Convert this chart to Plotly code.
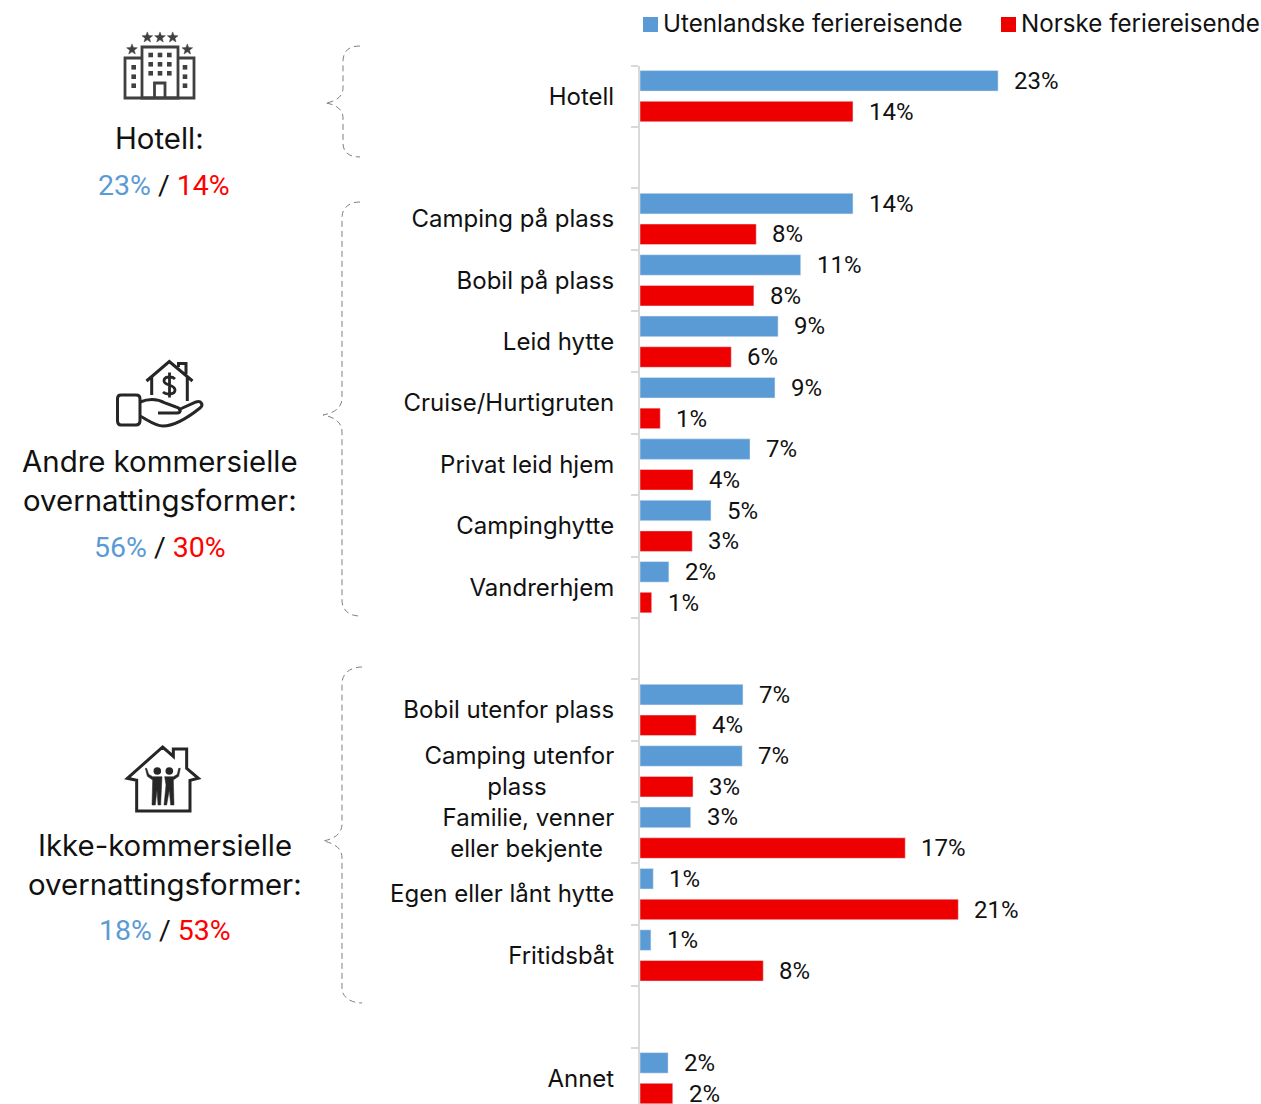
"""Overnattingsformer: utenlandske og norske feriereisende."""

import math
import re

import plotly.graph_objects as go

W, H = 1261, 1104
FONT = "Inter"
NUM_FONT = "Roboto"
BLUE = "#5B9BD5"
RED_BAR = "#EE0000"
RED_TEXT = "#FF0000"

categories = [
    "Hotell", " ", "Camping på plass", "Bobil på plass", "Leid hytte", "Cruise/Hurtigruten",
    "Privat leid hjem", "Campinghytte", "Vandrerhjem", "  ", "Bobil utenfor plass",
    "Camping utenfor<br>plass\u00a0\u00a0\u00a0\u00a0\u00a0\u00a0\u00a0\u00a0\u00a0\u00a0",
    "Familie, venner<br>eller bekjente\u00a0\u2009", "Egen eller lånt hytte", "Fritidsbåt", "   ", "Annet",
]
utenlandske = [22.95, None, 13.65, 10.3, 8.85, 8.65, 7.05, 4.55, 1.85, None, 6.6, 6.55, 3.25, 0.85, 0.7, None, 1.8]
norske = [13.65, None, 7.45, 7.3, 5.85, 1.3, 3.4, 3.35, 0.75, None, 3.6, 3.4, 17.0, 20.4, 7.9, None, 2.1]
utenlandske_labels = ["23%", "", "14%", "11%", "9%", "9%", "7%", "5%", "2%", "", "7%", "7%", "3%", "1%", "1%", "", "2%"]
norske_labels = ["14%", "", "8%", "8%", "6%", "1%", "4%", "3%", "1%", "", "4%", "3%", "17%", "21%", "8%", "", "2%"]


def px(d, ox=0.0, oy=0.0, s=1.0):
    """Gjør om en path i piksler til paper-koordinater."""
    def conv(m):
        x = (ox + float(m.group(1)) * s) / W
        y = 1 - (oy + float(m.group(2)) * s) / H
        return f"{x:.5f},{y:.5f}"
    return re.sub(r"(-?[\d.]+),(-?[\d.]+)", conv, d)


def add_path(fig, d, ox=0.0, oy=0.0, s=1.0, color="#404040", width=2.5, fill=None, dash=None):
    fig.add_shape(
        type="path", xref="paper", yref="paper", path=px(d, ox, oy, s),
        line=dict(color=color, width=width, dash=dash),
        fillcolor=fill if fill else "rgba(0,0,0,0)",
        layer="above",
    )


def add_rect(fig, x0, y0, x1, y1, color):
    fig.add_shape(
        type="rect", xref="paper", yref="paper",
        x0=x0 / W, x1=x1 / W, y0=1 - y0 / H, y1=1 - y1 / H,
        line=dict(width=0), fillcolor=color, layer="above",
    )


def add_circle(fig, cx, cy, r, color):
    fig.add_shape(
        type="circle", xref="paper", yref="paper",
        x0=(cx - r) / W, x1=(cx + r) / W, y0=1 - (cy - r) / H, y1=1 - (cy + r) / H,
        line=dict(width=0), fillcolor=color, layer="above",
    )


def star(cx, cy, r):
    pts = []
    for i in range(10):
        rad = r if i % 2 == 0 else r * 0.42
        a = -math.pi / 2 + i * math.pi / 5
        pts.append(f"{cx + rad * math.cos(a):.2f},{cy + rad * math.sin(a):.2f}")
    return "M" + " L".join(pts) + " Z"


def label(fig, x, y, text, size, anchor="center", family=FONT):
    fig.add_annotation(
        x=x / W, y=1 - y / H, xref="paper", yref="paper", text=text, showarrow=False,
        xanchor=anchor, yanchor="middle", font=dict(family=family, size=size, color="#111111"),
    )


def values_text(a, b):
    return f'<span style="color:{BLUE}">{a}</span> / <span style="color:{RED_TEXT}">{b}</span>'


fig = go.Figure()
fig.add_trace(go.Bar(name="Utenlandske feriereisende", y=categories, x=utenlandske, orientation="h", marker_color=BLUE))
fig.add_trace(go.Bar(name="Norske feriereisende", y=categories, x=norske, orientation="h", marker_color=RED_BAR))

# verdietiketter
for cat, lab_u, v_u, lab_n, v_n in zip(categories, utenlandske_labels, utenlandske, norske_labels, norske):
    if v_u is None:
        continue
    for val, lab, shift in ((v_u, lab_u, 15.3), (v_n, lab_n, -15.5)):
        fig.add_annotation(
            x=val, y=cat, xref="x", yref="y", text=lab, showarrow=False, xanchor="left",
            xshift=14, yshift=shift, font=dict(family=NUM_FONT, size=24, color="#111111"),
        )

# legende
add_rect(fig, 643, 17, 658, 32, BLUE)
label(fig, 661, 24, "Utenlandske feriereisende", 24.2, "left")
add_rect(fig, 1001, 17, 1016, 32, RED_BAR)
label(fig, 1019, 24, "Norske feriereisende", 24.2, "left")

# venstre tekstblokker
label(fig, 159, 138, "Hotell:", 29.4)
label(fig, 164, 185, values_text("23%", "14%"), 28.5, family=NUM_FONT)
label(fig, 159.5, 461, "Andre kommersielle", 29.4)
label(fig, 159.5, 500, "overnattingsformer:", 29.4)
label(fig, 160, 547, values_text("56%", "30%"), 28.5, family=NUM_FONT)
label(fig, 164.5, 845, "Ikke-kommersielle", 29.4)
label(fig, 164.5, 884, "overnattingsformer:", 29.4)
label(fig, 165, 930, values_text("18%", "53%"), 28.5, family=NUM_FONT)

# klammer
BRACE = dict(color="#7F7F7F", width=1, dash="6px,4px")
add_path(fig, "M360,46 C350,46 343,50 343,62 L343,88 C343,97 335,102 325,103 C335,104 343,109 343,118 L343,143 C343,153 350,157 360,157", **BRACE)
add_path(fig, "M360,202 C350,202 342,207 342,218 L342,398 C342,408 334,413 323,415 C334,417 342,422 342,432 L342,600 C342,611 350,616 360,616", **BRACE)
add_path(fig, "M362,667 C352,667 342,672 342,684 L342,824 C342,834 334,839 323,841 C334,843 342,848 342,858 L342,988 C342,998 352,1003 362,1003", **BRACE)

# hotell-ikon
GREY = "#404040"
add_path(fig, "M142,98 L142,47 L178,47 L178,98 Z", width=2.8)
add_path(fig, "M142,58 L125,58 L125,98 L194,98 L194,58 L178,58 M154.5,98 L154.5,83 L165,83 L165,98", width=2.8)
for wx in (150.7, 160, 169.3):
    for wy in (55, 64.3, 73.3):
        add_rect(fig, wx - 2.3, wy - 2.3, wx + 2.3, wy + 2.3, GREY)
for wx in (133.7, 185):
    for wy in (67.3, 76.7, 85.7):
        add_rect(fig, wx - 2.3, wy - 2.3, wx + 2.3, wy + 2.3, GREY)
for sx, sy in ((147.3, 37.5), (160, 37.5), (172.7, 37.5), (132, 49.5), (187.3, 49.5)):
    add_path(fig, star(sx, sy, 5.6), color=GREY, width=0.5, fill=GREY)

# hus i hånd
DARK = "#262626"
add_path(fig, "M146.5,381 L169.3,361.5 L192.5,381 M151.7,377 L151.7,395 M187.3,377 L187.3,401 M178.5,367 L178.5,363.5 L186,363.5 L186,374", color=DARK, width=3)
add_path(fig, "M175,379 C172,376 164,376 164,381 C164,386 175,384 175,390 C175,395 166,395 163,392 M169.5,372.5 L169.5,397.5", color=DARK, width=2.8)
add_path(fig, "M121,395 L136,395 Q140,395 140,399 L140,421 Q140,425 136,425 L121,425 Q117.5,425 117.5,421 L117.5,399 Q117.5,395 121,395 Z", color=DARK, width=3)
add_path(fig, "M140,402 C150,398 158,399 165,403 L176,407 C181,408 182,413 177,413 L158,413 M178,410 L196,402 C201,400 204,405 200,408 C190,416 175,426 163,426 C155,426 148,420 140,416", color=DARK, width=3)

# hus med familie
add_path(fig, "M52,130 L158,36 L190,64 L190,42 L230,42 L230,100 L265,130 L240,136 L240,228 L80,228 L80,136 Z", 110, 735, 1 / 3, color=DARK, width=3)
add_circle(fig, 157.3, 771, 3.8, DARK)
add_circle(fig, 169.3, 771, 3.8, DARK)
add_path(fig, "M110,100 L116,118 L128,125 L156,125 L152,210 L144,210 L141,165 L136,210 L126,210 L128,135 L112,124 L106,100 Z", 110, 735, 1 / 3, color=DARK, width=0.5, fill=DARK)
add_path(fig, "M206,100 L202,118 L190,125 L164,125 L168,150 L162,210 L170,210 L178,165 L182,210 L192,210 L190,135 L206,124 L211,100 Z", 110, 735, 1 / 3, color=DARK, width=0.5, fill=DARK)

fig.update_layout(
    width=W,
    height=H,
    margin=dict(l=0, r=0, t=0, b=0),
    paper_bgcolor="white",
    plot_bgcolor="white",
    barmode="group",
    bargap=0,
    bargroupgap=0.33,
    showlegend=False,
    xaxis=dict(domain=[640 / W, 1], range=[0, 39.8], visible=False),
    yaxis=dict(
        domain=[0, 1 - 65.5 / H],
        type="category",
        categoryorder="array",
        categoryarray=categories,
        range=[16.42, -0.5],
        dtick=1,
        tickson="boundaries",
        ticks="outside",
        ticklen=7,
        tickwidth=2,
        tickcolor="#D9D9D9",
        showline=True,
        linecolor="#D9D9D9",
        linewidth=2,
        showgrid=False,
        ticklabelstandoff=19,
        tickfont=dict(family=FONT, size=24, color="#111111"),
    ),
)

fig.write_html(
    "out.html",
    config={"displayModeBar": False},
    post_script="document.body.style.margin='0';document.body.style.overflow='hidden';",
)
